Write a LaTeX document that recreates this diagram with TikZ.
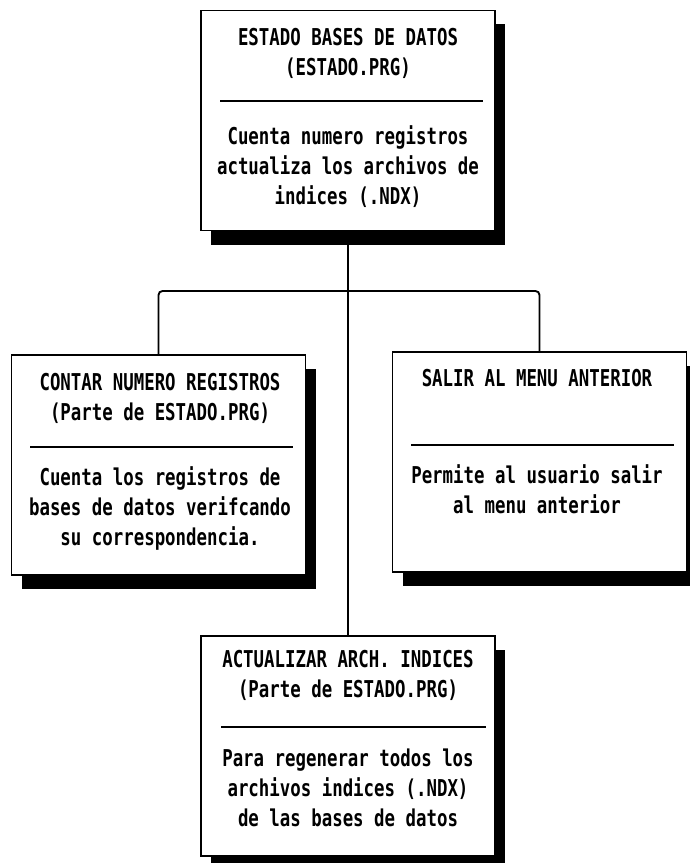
\documentclass[tikz,border=0pt]{standalone}
\usepackage{fontspec}
\newfontfamily\dotfont[FakeStretch=0.75]{DejaVu Sans Mono}
\usetikzlibrary{shadows}

\begin{document}
\begin{tikzpicture}[x=0.75pt, y=-0.75pt,
    caja/.style={draw, line width=1.4pt, fill=white, minimum width=220.5pt, minimum height=165pt,
      drop shadow={shadow xshift=7.5pt, shadow yshift=-10.5pt, fill=black, opacity=1}},
    texto/.style={font=\dotfont\bfseries\fontsize{17.4pt}{22.5pt}\selectfont, align=center, inner sep=0pt},
    raya/.style={line width=1.4pt},
    enlace/.style={line width=1.4pt}]
    \useasboundingbox (0,0) rectangle (689,863);

    % cajas
    \node[caja] (estado) at (348, 120.5) {};
    \node[caja] (contar) at (158.5, 465) {};
    \node[caja] (salir) at (539.5, 462) {};
    \node[caja] (actualizar) at (348, 746) {};

    % titulos
    \node[texto] (estado-tit) at (348, 53.5) {ESTADO BASES DE DATOS\\(ESTADO.PRG)};
    \node[texto] (contar-tit) at (160, 398) {CONTAR NUMERO REGISTROS\\(Parte de ESTADO.PRG)};
    \node[texto] (salir-tit) at (537, 378) {SALIR AL MENU ANTERIOR};
    \node[texto] (actualizar-tit) at (348, 675.5) {ACTUALIZAR ARCH. INDICES\\(Parte de ESTADO.PRG)};

    % separadores
    \draw[raya] (220, 101) -- (483, 101);
    \draw[raya] (30, 447) -- (293, 447);
    \draw[raya] (411, 445) -- (674, 445);
    \draw[raya] (221, 727) -- (486, 727);

    % descripciones
    \node[texto] (estado-txt) at (348, 167) {Cuenta numero registros\\actualiza los archivos de\\indices (.NDX)};
    \node[texto] (contar-txt) at (160, 508) {Cuenta los registros de\\bases de datos verifcando\\su correspondencia.};
    \node[texto] (salir-txt) at (537, 489.5) {Permite al usuario salir\\al menu anterior};
    \node[texto] (actualizar-txt) at (348, 787.5) {Para regenerar todos los\\archivos indices (.NDX)\\de las bases de datos};

    % enlaces
    \coordinate (cruce) at (348, 291);
    \draw[enlace] (estado.south) -- (actualizar.north);
    \draw[enlace, rounded corners=3pt] (contar.north) |- (cruce) -| (salir.north);
\end{tikzpicture}
\end{document}
